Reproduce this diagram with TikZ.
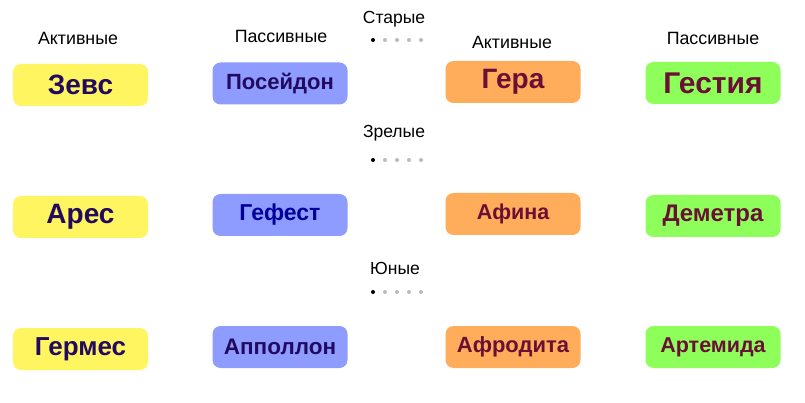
\documentclass[tikz,border=0pt]{standalone}
\usepackage{fontspec}
\setmainfont{Liberation Sans}
\usepackage{tikz}
\usetikzlibrary{positioning}

\definecolor{boxYellow}{HTML}{FFF560}
\definecolor{boxBlue}{HTML}{8E9CFF}
\definecolor{boxOrange}{HTML}{FFAD5A}
\definecolor{boxGreen}{HTML}{8EFF5A}
\definecolor{txtIndigo}{HTML}{220A60}
\definecolor{txtMaroon}{HTML}{6A0F35}
\definecolor{dotGray}{HTML}{BBBBBB}

\newcommand{\fsz}[1]{\fontsize{#1}{#1}\selectfont}

\tikzset{
  godbox/.style={rounded corners=8pt, minimum width=135pt, minimum height=42pt,
    inner sep=0pt, font=\bfseries\fsz{22}},
  activeM/.style={godbox, fill=boxYellow, text=txtIndigo},
  passiveM/.style={godbox, fill=boxBlue, text=txtIndigo},
  activeF/.style={godbox, fill=boxOrange, text=txtMaroon},
  passiveF/.style={godbox, fill=boxGreen, text=txtMaroon},
  header/.style={font=\fsz{17.8}, inner sep=0pt},
  agelabel/.style={font=\fsz{17.5}, inner sep=0pt}
}

\begin{document}
\begin{tikzpicture}[x=1pt, y=-1pt]

    % canvas
    \useasboundingbox (0,0) rectangle (805,403);

    % ==========================================
    % COLUMN HEADERS
    % ==========================================
    \node[header] (hActM)  at (78,38)  {Активные};
    \node[header] (hPasM)  at (281,36) {Пассивные};
    \node[header] (hActF)  at (512,42) {Активные};
    \node[header] (hPasF)  at (713,38) {Пассивные};

    % ==========================================
    % AGE LABELS WITH DOTS
    % ==========================================
    \node[agelabel] (stariye) at (394,19)  {Старые};
    \node[agelabel] (zreliye) at (394,133) {Зрелые};
    \node[agelabel] (yuniye)  at (395,268) {Юные};

    \foreach \yy in {40,160,292}{
      \fill[black] (373,\yy) circle (2pt);
      \foreach \k in {1,...,4}
        \fill[dotGray] (373+12*\k,\yy) circle (2pt);
    }

    % ==========================================
    % ROW 1: OLD
    % ==========================================
    \node[activeM, font=\bfseries\fsz{28}]  (zevs)     at (80.5,85) {Зевс};
    \node[passiveM]                          (poseidon) at (280,83.5) {Посейдон};
    \node[activeF, font=\bfseries\fsz{28}]  (gera)     at (513,82)  {Гера};
    \node[passiveF, font=\bfseries\fsz{30}] (gestia)   at (713,83)  {Гестия};

    % ==========================================
    % ROW 2: MATURE
    % ==========================================
    \node[activeM, font=\bfseries\fsz{28}]  (ares)    at (80.5,217) {Арес};
    \node[passiveM, text=blue!60!black, font=\bfseries\fsz{23}] (gefest) at (280,215) {Гефест};
    \node[activeF, font=\bfseries\fsz{21.5}] (afina)  at (513,214)  {Афина};
    \node[passiveF, font=\bfseries\fsz{24}] (demetra) at (713,216)  {Деметра};

    % ==========================================
    % ROW 3: YOUNG
    % ==========================================
    \node[activeM, font=\bfseries\fsz{26}]    (germes)   at (80.5,349) {Гермес};
    \node[passiveM, font=\bfseries\fsz{22.5}] (apollon)  at (280,347)  {Апполлон};
    \node[activeF]                             (afrodita) at (513,347)  {Афродита};
    \node[passiveF, font=\bfseries\fsz{21.5}] (artemida) at (713,347)  {Артемида};

\end{tikzpicture}
\end{document}
